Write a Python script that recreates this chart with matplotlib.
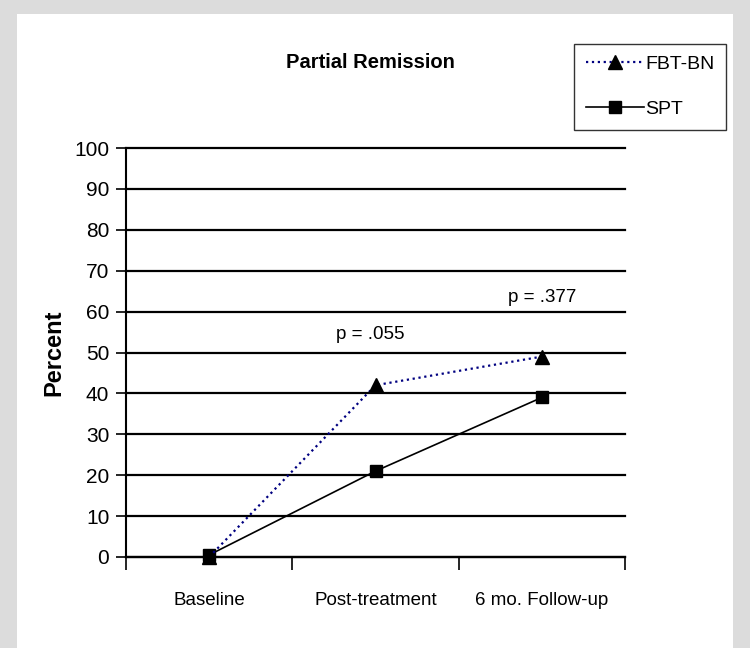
import matplotlib.pyplot as plt
from matplotlib.patches import Rectangle

# data
stages = ["Baseline", "Post-treatment", "6 mo. Follow-up"]
fbt_bn = [0, 42, 49]
spt = [0.5, 21, 39]
p_labels = ["p = .055", "p = .377"]
p_x = [0.97, 2.0]
p_y = [54.5, 63.5]
yticks = list(range(0, 101, 10))

plt.rcParams['font.family'] = ['Liberation Sans', 'DejaVu Sans']

fig = plt.figure(figsize=(7.5, 6.48), dpi=100)
fig.patch.set_facecolor('#dcdcdc')
bg = Rectangle((17/750, 0), (733-17)/750, 1-14/648,
               transform=fig.transFigure, facecolor='white',
               edgecolor='none', zorder=-10)
fig.patches.append(bg)

ax = fig.add_axes([126/750, 1-557/648, (625-126)/750, (557-148)/648])
ax.set_facecolor('none')

x = list(range(len(stages)))
ax.plot(x, fbt_bn, color='#000080', linestyle=':', linewidth=1.6,
        marker='^', markersize=10, markerfacecolor='black',
        markeredgecolor='black', label='FBT-BN', zorder=4, clip_on=False)
ax.plot(x, spt, color='black', linestyle='-', linewidth=1.2,
        marker='s', markersize=8, markerfacecolor='black',
        markeredgecolor='black', label='SPT', zorder=3, clip_on=False)

for t, px, py in zip(p_labels, p_x, p_y):
    ax.text(px, py, t, ha='center', va='center', fontsize=13.5)

ax.set_xlim(-0.5, 2.5)
ax.set_ylim(0, 100)
ax.set_yticks(yticks)
ax.tick_params(axis='y', labelsize=15, length=7, width=1.2, pad=5)
ax.yaxis.grid(True, color='black', linewidth=1.6)
for gl in ax.get_ygridlines():
    gl.set_clip_on(False)
ax.set_axisbelow(True)

ax.set_xticks(x)
ax.set_xticklabels(stages, fontsize=13.5)
ax.tick_params(axis='x', which='major', length=0, pad=25)
ax.set_xticks([-0.5, 0.5, 1.5, 2.5], minor=True)
ax.tick_params(axis='x', which='minor', length=9, width=1.2, direction='out')

for s in ['top', 'right']:
    ax.spines[s].set_visible(False)
ax.spines['left'].set_linewidth(1.5)
ax.spines['bottom'].set_linewidth(1.6)

ax.set_ylabel('Percent', fontsize=17, fontweight='bold')
ax.yaxis.set_label_coords(-0.122, 0.5)
fig.text(370/750, 1-62/648, 'Partial Remission', ha='center', va='center',
         fontsize=14.5, fontweight='bold')

leg = ax.legend(loc='upper left', bbox_to_anchor=(574/750, 1-44/648),
                bbox_transform=fig.transFigure, fontsize=14, frameon=True,
                fancybox=False, handlelength=3.0, handletextpad=0.05,
                borderpad=0.6, labelspacing=1.4, borderaxespad=0)
leg.get_frame().set_edgecolor('black')
leg.get_frame().set_linewidth(1.0)

fig.savefig('out.png', dpi=100)
